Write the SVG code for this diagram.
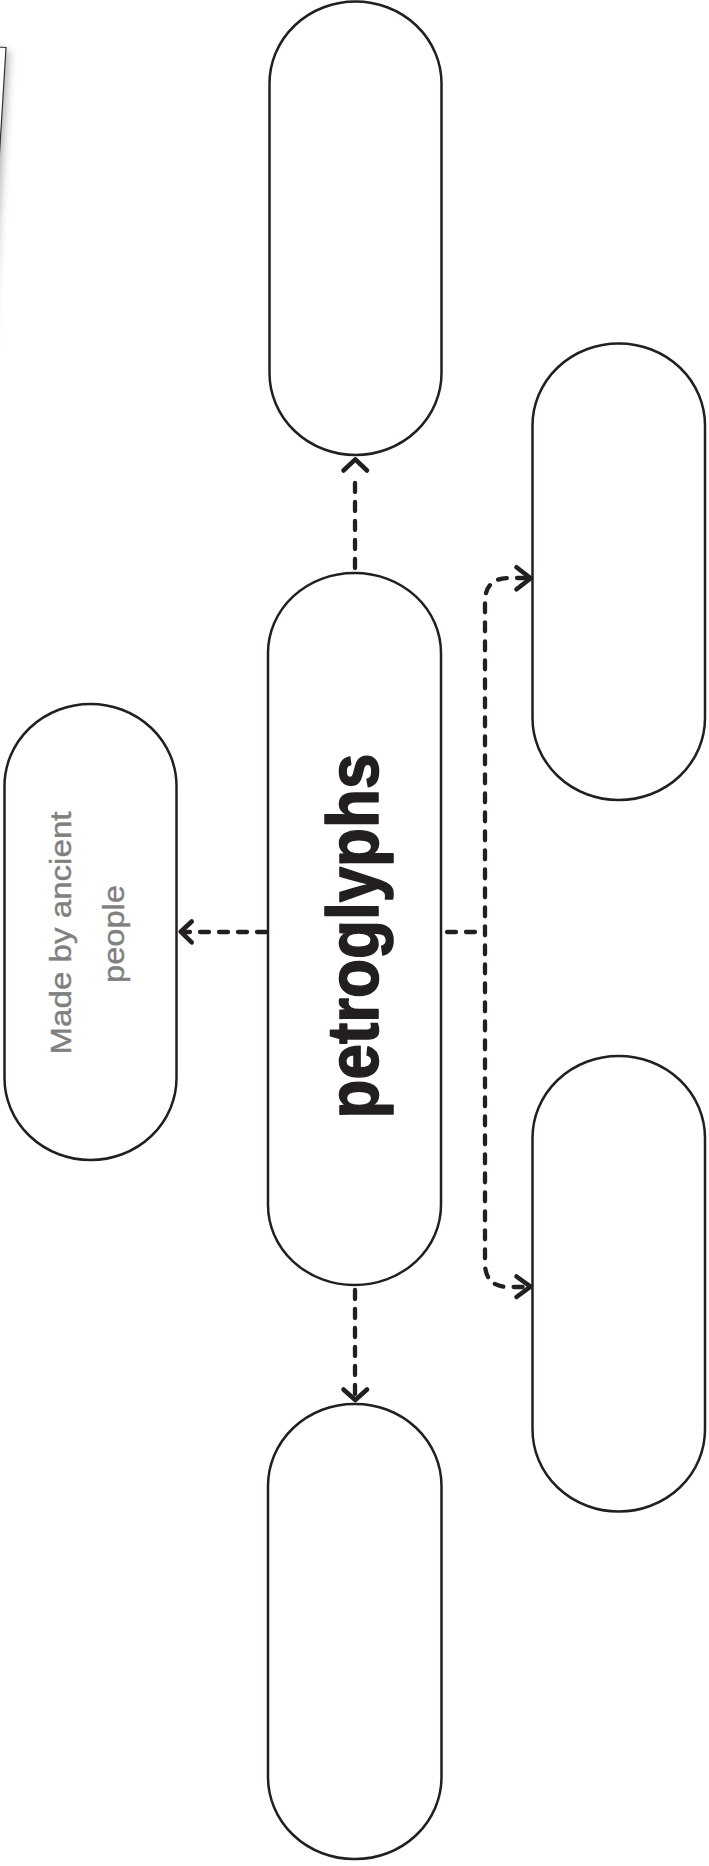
<svg xmlns="http://www.w3.org/2000/svg" width="709" height="1866" viewBox="0 0 709 1866">
  <style>
    .node { fill: #ffffff; stroke: #231f20; stroke-width: 2.5; }
    .conn { fill: none; stroke: #231f20; stroke-width: 4.3; stroke-linecap: round; stroke-linejoin: round; stroke-dasharray: 9 10; }
    .head { fill: none; stroke: #231f20; stroke-width: 4.6; stroke-linecap: round; stroke-linejoin: round; }
    .main { font-family: "Liberation Sans", Arial, sans-serif; font-weight: bold; font-size: 72px; fill: #231f20; stroke: #231f20; stroke-width: 1.6; stroke-linejoin: round; }
    .note { font-family: "Liberation Sans", Arial, sans-serif; font-size: 30px; fill: #808080; stroke: #808080; stroke-width: 0.4; }
  </style>
  <defs>
    <filter id="shadow" x="-50%" y="-50%" width="200%" height="200%">
      <feDropShadow dx="2" dy="4" stdDeviation="5" flood-color="#000000" flood-opacity="0.35"/>
    </filter>
  </defs>
  <rect x="0" y="0" width="709" height="1866" fill="#ffffff"/>

  <g id="page-corner">
    <polygon points="6,47.5 -294,29 -318,429 -18.5,447.5" fill="#ffffff" stroke="#333333" stroke-width="1.2" filter="url(#shadow)"/>
  </g>

  <g id="connectors">
    <path class="conn" d="M355 568 V474"/>
    <path class="head" d="M343.5 470.5 L355.3 459.3 L367 470.5"/>
    <path class="conn" d="M355 1290 V1396"/>
    <path class="head" d="M343.5 1389.5 L355.3 1400 L367 1389.5"/>
    <path class="conn" d="M266 932 H186"/>
    <path class="head" d="M191.7 921.5 L180.7 931.7 L191.7 942.3"/>
    <path class="conn" d="M447 932 H484"/>
    <path class="conn" d="M526 578 H509 Q485 578 485 602 V1263 Q485 1287 509 1287 H525"/>
    <path class="head" d="M516.5 567.3 L530.7 578.3 L516.5 589.3"/>
    <path class="head" d="M516.5 1276.5 L530.5 1286.7 L516.5 1297"/>
  </g>

  <g id="node-top">
    <rect class="node" x="269.5" y="1.5" width="172" height="453.5" rx="86" ry="82"/>
  </g>
  <g id="node-center">
    <rect class="node" x="268" y="573" width="173" height="712" rx="86" ry="80"/>
    <text class="main" transform="translate(378,936) rotate(-90)" text-anchor="middle" textLength="365" lengthAdjust="spacingAndGlyphs">petroglyphs</text>
  </g>
  <g id="node-left">
    <rect class="node" x="4.5" y="704" width="172" height="456" rx="86" ry="82"/>
    <text class="note" transform="translate(71,933) rotate(-90)" text-anchor="middle" textLength="243" lengthAdjust="spacingAndGlyphs">Made by ancient</text>
    <text class="note" transform="translate(124,934) rotate(-90)" text-anchor="middle" textLength="98" lengthAdjust="spacingAndGlyphs">people</text>
  </g>
  <g id="node-right-top">
    <rect class="node" x="532.5" y="343.5" width="172.5" height="456.5" rx="86" ry="82"/>
  </g>
  <g id="node-right-bottom">
    <rect class="node" x="532.5" y="1056" width="172.5" height="455.5" rx="86" ry="82"/>
  </g>
  <g id="node-bottom">
    <rect class="node" x="268" y="1404" width="173.5" height="455" rx="86" ry="82"/>
  </g>
</svg>
